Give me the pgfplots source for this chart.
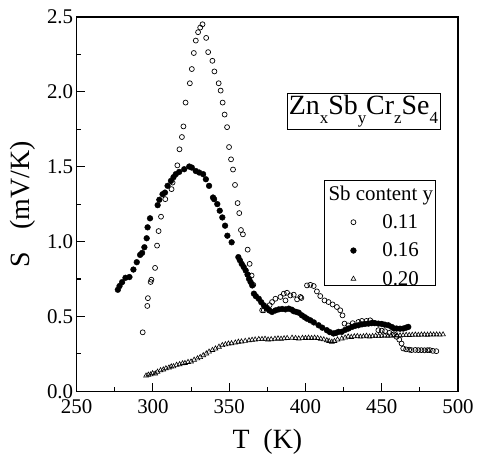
\documentclass[border=0pt]{standalone}
\usepackage{fontspec}
\setmainfont{Liberation Serif}
\usepackage{pgfplots}
\pgfplotsset{compat=1.18}

\begin{document}
\begin{tikzpicture}
\begin{axis}[
    scale only axis,
    width=383pt, height=376pt,
    xmin=250, xmax=500, ymin=0, ymax=2.5,
    xtick={250,300,...,500},
    ytick={0,0.5,...,2.5},
    minor tick num=1,
    xtick pos=left, ytick pos=left,
    tick align=inside,
    major tick length=8pt, minor tick length=4pt,
    axis line style={line width=1.3pt},
    every tick/.style={line width=1.1pt, black},
    /pgf/number format/assume math mode=true,
    xticklabel style={font=\fontsize{21}{21}\selectfont, /pgf/number format/fixed, yshift=-5pt},
    yticklabel style={font=\fontsize{21}{21}\selectfont, /pgf/number format/fixed,
        /pgf/number format/fixed zerofill, /pgf/number format/precision=1},
    xlabel={T\hspace{0.5em}(K)},
    ylabel={S\hspace{0.8em}(mV/K)},
    label style={font=\fontsize{28}{28}\selectfont},
    xlabel style={at={(axis description cs:0.5,-0.135)}, anchor=center},
    ylabel style={at={(axis description cs:-0.141,0.5)}, anchor=center},
    legend style={at={(rel axis cs:0.66,0.574)}, anchor=north west,
        font=\fontsize{21}{21}\selectfont, draw=none, fill=none,
        row sep=9pt, inner xsep=2pt, inner ysep=7pt, column sep=4pt},
    legend cell align=left,
    legend image code/.code={
        \path[draw=none, fill=none] (0pt,-4pt) rectangle (46pt,4pt);
        \draw[#1] plot coordinates {(23pt,0pt)};
    },
]

\addlegendimage{empty legend}
\addlegendentry{\hspace{-54pt}Sb content y}

% y = 0.11
\addplot[only marks, mark=o, mark size=2.5pt, mark options={line width=0.7pt}] coordinates {
(293.3,0.394)(296.3,0.570)(296.7,0.622)(298.5,0.730)(299.0,0.745)(301.4,0.824)
(302.7,0.973)(303.7,1.070)(305.3,1.166)(308.1,1.283)(312.2,1.350)(312.9,1.394)
(316.0,1.509)(317.4,1.616)(319.0,1.698)(320.0,1.769)(321.4,1.928)(324.2,2.057)
(325.5,2.152)(326.8,2.259)(328.1,2.342)(329.6,2.398)(331.0,2.429)(332.5,2.451)
(334.9,2.360)(336.2,2.265)(339.0,2.207)(340.3,2.136)(343.1,2.057)(344.4,2.008)
(345.7,1.928)(347.0,1.848)(348.6,1.764)(349.9,1.631)(351.2,1.549)(352.5,1.481)
(353.8,1.378)(355.5,1.257)(356.6,1.190)(357.7,1.077)(359.0,1.048)(362.1,0.946)
(363.4,0.851)(364.7,0.773)(365.8,0.711)(371.6,0.541)(372.7,0.541)(374.9,0.558)
(376.5,0.575)(378.1,0.596)(380.3,0.618)(383.6,0.630)(385.8,0.652)(386.9,0.607)
(387.9,0.658)(390.1,0.640)(392.3,0.645)(394.5,0.614)(396.7,0.630)(397.3,0.623)
(401.0,0.707)(403.2,0.711)(405.4,0.703)(407.5,0.667)(409.7,0.636)(412.5,0.607)
(415.1,0.596)(417.8,0.580)(420.6,0.563)(422.8,0.541)(424.3,0.507)(425.6,0.452)
(428.0,0.440)(431.0,0.455)(434.7,0.463)(437.0,0.470)(440.0,0.470)(442.4,0.474)
(444.0,0.460)(447.8,0.408)(450.0,0.405)(452.2,0.401)(455.0,0.390)(458.0,0.380)
(459.7,0.364)(461.5,0.345)(463.0,0.319)(464.1,0.286)(466.0,0.280)(468.0,0.278)
(469.5,0.275)(472.0,0.276)(474.0,0.275)(476.0,0.275)(478.0,0.274)(480.0,0.275)
(481.5,0.275)(483.5,0.270)(485.8,0.268)
};
\addlegendentry{0.11}

% y = 0.16
\addplot[only marks, mark=*, mark size=2.9pt] coordinates {
(277.0,0.678)(278.1,0.703)(279.8,0.729)(282.0,0.758)(284.6,0.763)(287.2,0.813)
(289.4,0.862)(291.6,0.911)(292.9,0.924)(294.4,0.962)(295.9,1.022)(296.5,1.095)
(298.1,1.155)(303.1,1.243)(304.2,1.279)(306.3,1.316)(307.9,1.327)(309.6,1.372)
(311.8,1.405)(313.5,1.430)(315.0,1.450)(317.2,1.465)(320.5,1.483)(323.8,1.501)
(325.5,1.494)(328.1,1.471)(330.3,1.461)(332.9,1.450)(334.7,1.416)(336.8,1.372)
(339.4,1.294)(340.1,1.283)(342.2,1.250)(343.8,1.206)(345.5,1.161)(347.3,1.106)
(348.8,1.039)(351.6,0.995)(356.0,0.896)(357.0,0.875)(358.2,0.851)(359.5,0.830)
(360.8,0.807)(362.0,0.780)(363.0,0.751)(364.0,0.730)(365.1,0.707)(366.2,0.652)
(367.5,0.635)(369.4,0.618)(371.0,0.595)(372.7,0.574)(374.5,0.555)(376.3,0.540)
(378.1,0.530)(380.3,0.540)(382.5,0.547)(384.7,0.550)(386.9,0.547)(389.0,0.552)
(391.0,0.545)(392.3,0.535)(394.0,0.530)(395.6,0.525)(397.7,0.507)(399.5,0.495)
(401.0,0.485)(403.2,0.474)(405.5,0.460)(408.6,0.441)(411.0,0.425)(414.0,0.408)
(416.0,0.395)(418.4,0.386)(420.0,0.390)(421.7,0.397)(423.8,0.397)(426.0,0.410)
(428.2,0.419)(430.5,0.430)(432.5,0.437)(434.7,0.441)(437.0,0.447)(439.0,0.450)
(441.3,0.452)(443.5,0.455)(445.5,0.455)(447.8,0.452)(450.0,0.450)(452.0,0.445)
(454.3,0.441)(456.5,0.430)(458.0,0.420)(459.7,0.419)(462.0,0.418)(464.1,0.419)
(466.0,0.425)(467.4,0.430)
};
\addlegendentry{0.16}

% y = 0.20
\addplot[only marks, mark=triangle, mark size=2.8pt, mark options={line width=0.6pt}] coordinates {
(295.5,0.104)(297.0,0.110)(298.5,0.112)(299.8,0.120)(301.5,0.118)(303.0,0.130)
(305.0,0.140)(306.8,0.145)(308.5,0.153)(310.5,0.158)(312.0,0.165)(313.5,0.166)
(315.5,0.176)(317.5,0.180)(319.4,0.186)(321.0,0.188)(323.0,0.195)(325.0,0.198)
(327.0,0.210)(329.2,0.219)(331.0,0.228)(333.0,0.240)(335.0,0.252)(336.8,0.264)
(339.0,0.275)(341.0,0.285)(343.3,0.297)(345.5,0.308)(347.5,0.313)(349.5,0.318)
(351.5,0.320)(354.0,0.325)(356.0,0.330)(358.0,0.332)(360.5,0.336)(363.0,0.340)
(365.0,0.343)(367.0,0.345)(369.4,0.348)(371.5,0.348)(373.5,0.350)(375.5,0.345)
(377.5,0.347)(380.0,0.350)(382.0,0.352)(384.0,0.350)(386.0,0.353)(388.0,0.355)
(391.2,0.357)(393.5,0.355)(395.6,0.352)(398.0,0.356)(400.0,0.355)(402.0,0.357)
(404.0,0.355)(406.0,0.357)(408.0,0.355)(410.0,0.350)(412.0,0.346)(414.0,0.340)
(415.5,0.335)(417.3,0.330)(419.0,0.335)(421.0,0.345)(423.8,0.352)(426.0,0.358)
(428.0,0.365)(430.0,0.362)(432.0,0.366)(434.0,0.368)(436.0,0.364)(438.0,0.366)
(440.0,0.370)(442.0,0.365)(444.0,0.368)(446.0,0.370)(448.0,0.368)(450.0,0.370)
(452.0,0.372)(454.0,0.370)(456.0,0.372)(458.0,0.372)(460.0,0.374)(462.0,0.372)
(464.0,0.374)(466.0,0.376)(468.0,0.375)(470.0,0.376)(472.0,0.378)(474.0,0.376)
(476.0,0.378)(478.0,0.378)(480.0,0.377)(482.0,0.379)(484.0,0.378)(486.0,0.379)
(488.0,0.378)(490.2,0.379)
};
\addlegendentry{0.20}

% frame of the legend
\draw[black, line width=0.8pt] (rel axis cs:0.650,0.564) rectangle (rel axis cs:0.940,0.282);

\node[draw, line width=0.6pt, inner sep=2pt, font=\fontsize{28}{28}\selectfont]
    at (axis cs:438,1.87)
    {Zn\raisebox{-0.35em}{\fontsize{17}{17}\selectfont x}Sb\raisebox{-0.35em}{\fontsize{17}{17}\selectfont y}Cr\raisebox{-0.35em}{\fontsize{17}{17}\selectfont z}Se\raisebox{-0.35em}{\fontsize{17}{17}\selectfont 4}};
\end{axis}
% fix the page margins to those of the reference
\path (current axis.north west) ++(-77pt,17pt);
\path (current axis.south east) ++(17pt,-64pt);
\end{tikzpicture}
\end{document}
